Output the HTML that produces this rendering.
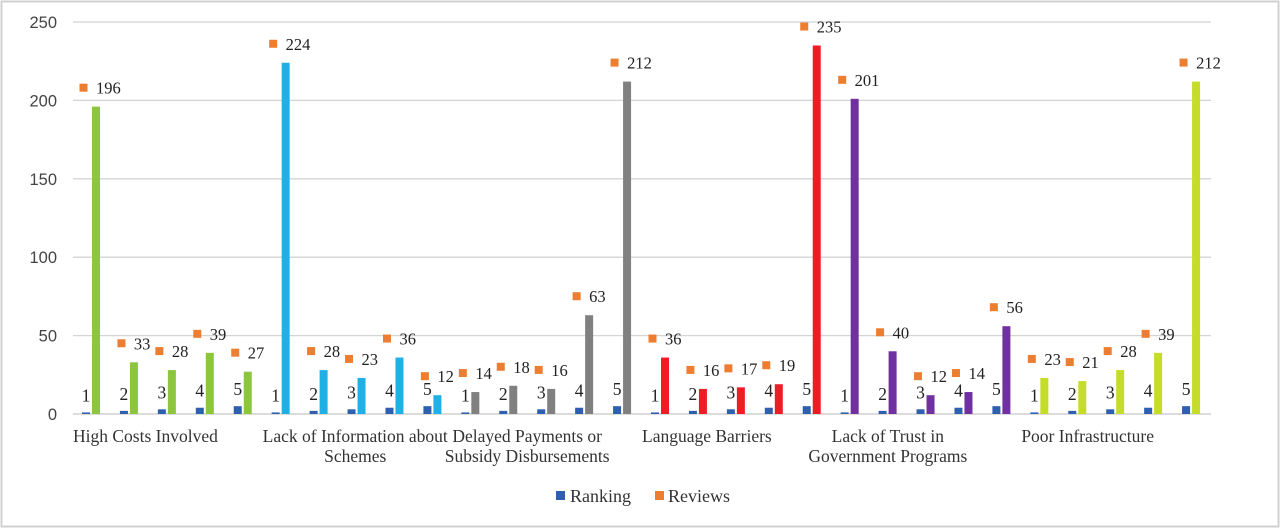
<!DOCTYPE html>
<html><head><meta charset="utf-8"><style>
html,body{margin:0;padding:0;background:#fff;}
svg{display:block;}
</style></head><body>
<svg id="chart" width="1280" height="528" viewBox="0 0 1280 528" xmlns="http://www.w3.org/2000/svg">
<rect x="1.5" y="1.5" width="1277" height="525" fill="#fff" stroke="#d0d0d0" stroke-width="2"/>
<g id="grid"></g><g id="marks"></g><g id="labels"></g>
<g>
<rect x="556" y="491" width="9" height="9" fill="#2f5faf"/>
<text x="570" y="502" font-family="Liberation Serif, serif" font-size="18" fill="#333">Ranking</text>
<rect x="655" y="491" width="9" height="9" fill="#ed7d31"/>
<text x="668" y="502" font-family="Liberation Serif, serif" font-size="18" fill="#333">Reviews</text>
</g>
</svg>
<script>
const categories = [["High Costs Involved"],["Lack of Information about","Schemes"],["Delayed Payments or","Subsidy Disbursements"],["Language Barriers"],["Lack of Trust in","Government Programs"],["Poor Infrastructure"]];
const ranks = [1,2,3,4,5];
const reviewsHigh = [196,33,28,39,27];
const reviewsInfo = [224,28,23,36,12];
const reviewsDelay = [14,18,16,63,212];
const reviewsLang = [36,16,17,19,235];
const reviewsTrust = [201,40,12,14,56];
const reviewsInfra = [23,21,28,39,212];
const reviews = [reviewsHigh,reviewsInfo,reviewsDelay,reviewsLang,reviewsTrust,reviewsInfra];
const colors = ["#8cc63f","#1fb1e6","#808080","#ee1c24","#7030a0","#c5dc2a"];
const yTicks = [0,50,100,150,200,250];

const NS="http://www.w3.org/2000/svg";
const X0=73, X1=1211, Y0=414, Ymax=250, PH=392;
const slotW=(X1-X0)/30;
const y=v=>Y0-v/Ymax*PH;
const xs=i=>X0+i*slotW;
function mk(tag,attrs,parent){const e=document.createElementNS(NS,tag);for(const k in attrs)e.setAttribute(k,attrs[k]);parent.appendChild(e);return e;}
const grid=document.getElementById('grid'),marks=document.getElementById('marks'),labels=document.getElementById('labels');
yTicks.forEach(t=>{
  const l=mk('line',{x1:X0,x2:X1,y1:y(t),y2:y(t),stroke:t===0?'#c8c8c8':'#d4d4d4','stroke-width':1.3},grid);
  
  
  const tx=mk('text',{x:57,y:y(t)+6,'text-anchor':'end','font-family':'Liberation Sans, sans-serif','font-size':16.5,fill:'#444'},grid);
  tx.textContent=t;
  
  
});
categories.forEach((cat,c)=>{
  ranks.forEach((r,k)=>{
    const s=xs(c*5+k), v=reviews[c][k];
    const b=mk('rect',{x:s+9,y:y(r),width:8,height:Y0-y(r),fill:'#2f5faf'},marks);
    
    
    const b2=mk('rect',{x:s+19,y:y(v),width:8,height:Y0-y(v),fill:colors[c]},marks);
    
    
    const m=mk('rect',{x:s+6.5,y:y(v)-23,width:8,height:8,fill:'#ed7d31'},marks);
    
    
    const vl=mk('text',{x:s+23,y:y(v)-13,'font-family':'Liberation Serif, serif','font-size':16.5,fill:'#222'},labels);
    vl.textContent=v;
    
    
    const rl=mk('text',{x:s+13,y:y(r)-11,'text-anchor':'middle','font-family':'Liberation Serif, serif','font-size':17.5,fill:'#222'},labels);
    rl.textContent=r;
    
    
  });
  const gx=xs(c*5);
  const t1=mk('text',{x:gx,y:442,'font-family':'Liberation Serif, serif','font-size':17.5,fill:'#333'},labels);
  t1.textContent=cat[0];
  
  
  if(cat[1]){
    const w=t1.getComputedTextLength();
    const t2=mk('text',{x:gx+w/2,y:462,'text-anchor':'middle','font-family':'Liberation Serif, serif','font-size':17.5,fill:'#333'},labels);
    t2.textContent=cat[1];
    
    
  }
});
</script>
</body></html>
